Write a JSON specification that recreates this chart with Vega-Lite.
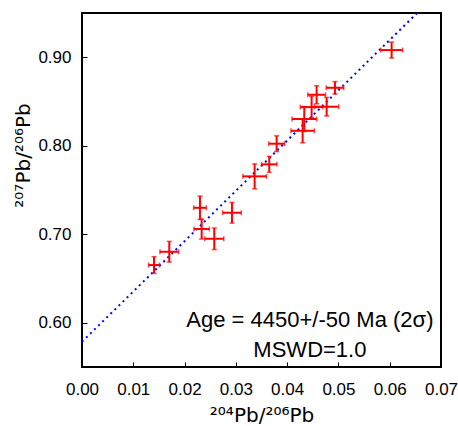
{
  "$schema": "https://vega.github.io/schema/vega-lite/v6.json",
  "width": 359,
  "height": 354,
  "autosize": {"type": "none"},
  "padding": {"left": 82, "top": 13, "right": 17, "bottom": 59},
  "background": "white",
  "config": {
    "view": {"stroke": "black", "strokeWidth": 2},
    "axis": {
      "grid": false,
      "domain": false,
      "labelFont": "Liberation Sans",
      "labelFontSize": 17,
      "labelColor": "black",
      "labelFlush": false,
      "labelOverlap": false,
      "tickColor": "black",
      "tickSize": -5,
      "tickWidth": 1,
      "titleFont": "DejaVu Sans",
      "titleFontSize": 20,
      "titleFontWeight": "normal",
      "titleColor": "black"
    }
  },
  "datasets": {
    "pts": [
      {"x": 0.01404, "xlo": 0.01297, "xhi": 0.01511, "y": 0.6652, "ylo": 0.6558, "yhi": 0.6746},
      {"x": 0.01702, "xlo": 0.0152, "xhi": 0.01884, "y": 0.6802, "ylo": 0.6685, "yhi": 0.6919},
      {"x": 0.0230, "xlo": 0.02177, "xhi": 0.02423, "y": 0.7299, "ylo": 0.7167, "yhi": 0.7431},
      {"x": 0.02333, "xlo": 0.02183, "xhi": 0.02483, "y": 0.7059, "ylo": 0.6946, "yhi": 0.7172},
      {"x": 0.02579, "xlo": 0.02394, "xhi": 0.02764, "y": 0.6949, "ylo": 0.6827, "yhi": 0.7071},
      {"x": 0.02924, "xlo": 0.02742, "xhi": 0.03106, "y": 0.7243, "ylo": 0.7126, "yhi": 0.736},
      {"x": 0.03366, "xlo": 0.03136, "xhi": 0.03596, "y": 0.7654, "ylo": 0.7513, "yhi": 0.7795},
      {"x": 0.03651, "xlo": 0.03501, "xhi": 0.03801, "y": 0.779, "ylo": 0.77, "yhi": 0.788},
      {"x": 0.03795, "xlo": 0.03642, "xhi": 0.03948, "y": 0.8023, "ylo": 0.7934, "yhi": 0.8112},
      {"x": 0.04302, "xlo": 0.04074, "xhi": 0.0453, "y": 0.8169, "ylo": 0.8033, "yhi": 0.8305},
      {"x": 0.04334, "xlo": 0.04094, "xhi": 0.04574, "y": 0.8302, "ylo": 0.8161, "yhi": 0.8443},
      {"x": 0.04477, "xlo": 0.04257, "xhi": 0.04697, "y": 0.8437, "ylo": 0.8316, "yhi": 0.8558},
      {"x": 0.04575, "xlo": 0.04403, "xhi": 0.04747, "y": 0.8576, "ylo": 0.8474, "yhi": 0.8678},
      {"x": 0.0477, "xlo": 0.04536, "xhi": 0.05004, "y": 0.8441, "ylo": 0.8336, "yhi": 0.8546},
      {"x": 0.04932, "xlo": 0.04762, "xhi": 0.05102, "y": 0.8655, "ylo": 0.8585, "yhi": 0.8725},
      {"x": 0.06037, "xlo": 0.05823, "xhi": 0.06251, "y": 0.9081, "ylo": 0.8991, "yhi": 0.9171}
    ],
    "fit": [
      {"x": 0.0, "y": 0.5785},
      {"x": 0.07, "y": 0.9764}
    ],
    "notes": [
      {"x": 0.04444, "y": 0.5955, "label": "Age = 4450+/-50 Ma (2σ)"},
      {"x": 0.04444, "y": 0.5616, "label": "MSWD=1.0"}
    ]
  },
  "layer": [
    {
      "data": {"name": "fit"},
      "mark": {"type": "line", "color": "#0000ff", "strokeWidth": 2, "strokeDash": [2, 3.7], "clip": true},
      "encoding": {
        "x": {
          "field": "x", "type": "quantitative",
          "scale": {"domain": [0, 0.07], "nice": false, "zero": false},
          "axis": {"values": [0, 0.01, 0.02, 0.03, 0.04, 0.05, 0.06, 0.07], "format": ".2f", "labelPadding": 19, "title": "²⁰⁴Pb/²⁰⁶Pb", "titlePadding": 8}
        },
        "y": {
          "field": "y", "type": "quantitative",
          "scale": {"domain": [0.55, 0.95], "nice": false, "zero": false},
          "axis": {"values": [0.6, 0.7, 0.8, 0.9], "format": ".2f", "labelPadding": 16, "title": "²⁰⁷Pb/²⁰⁶Pb", "titleY": 142, "titleX": -53, "titleBaseline": "alphabetic", "titleAngle": 270}
        }
      }
    },
    {
      "data": {"name": "pts"},
      "mark": {"type": "rule", "color": "#ff0000", "strokeWidth": 2},
      "encoding": {
        "x": {"field": "xlo", "type": "quantitative"},
        "x2": {"field": "xhi"},
        "y": {"field": "y", "type": "quantitative"}
      }
    },
    {
      "data": {"name": "pts"},
      "mark": {"type": "rule", "color": "#ff0000", "strokeWidth": 2},
      "encoding": {
        "y": {"field": "ylo", "type": "quantitative"},
        "y2": {"field": "yhi"},
        "x": {"field": "x", "type": "quantitative"}
      }
    },
    {
      "data": {"name": "pts"},
      "mark": {"type": "tick", "color": "#ff0000", "orient": "vertical", "size": 5, "thickness": 1.5},
      "encoding": {
        "x": {"field": "xlo", "type": "quantitative"},
        "y": {"field": "y", "type": "quantitative"}
      }
    },
    {
      "data": {"name": "pts"},
      "mark": {"type": "tick", "color": "#ff0000", "orient": "vertical", "size": 5, "thickness": 1.5},
      "encoding": {
        "x": {"field": "xhi", "type": "quantitative"},
        "y": {"field": "y", "type": "quantitative"}
      }
    },
    {
      "data": {"name": "pts"},
      "mark": {"type": "tick", "color": "#ff0000", "orient": "horizontal", "size": 5, "thickness": 1.5},
      "encoding": {
        "x": {"field": "x", "type": "quantitative"},
        "y": {"field": "ylo", "type": "quantitative"}
      }
    },
    {
      "data": {"name": "pts"},
      "mark": {"type": "tick", "color": "#ff0000", "orient": "horizontal", "size": 5, "thickness": 1.5},
      "encoding": {
        "x": {"field": "x", "type": "quantitative"},
        "y": {"field": "yhi", "type": "quantitative"}
      }
    },
    {
      "data": {"name": "notes"},
      "mark": {"type": "text", "font": "Liberation Sans", "fontSize": 22, "color": "black", "align": "center", "baseline": "alphabetic"},
      "encoding": {
        "x": {"field": "x", "type": "quantitative"},
        "y": {"field": "y", "type": "quantitative"},
        "text": {"field": "label"}
      }
    }
  ]
}
